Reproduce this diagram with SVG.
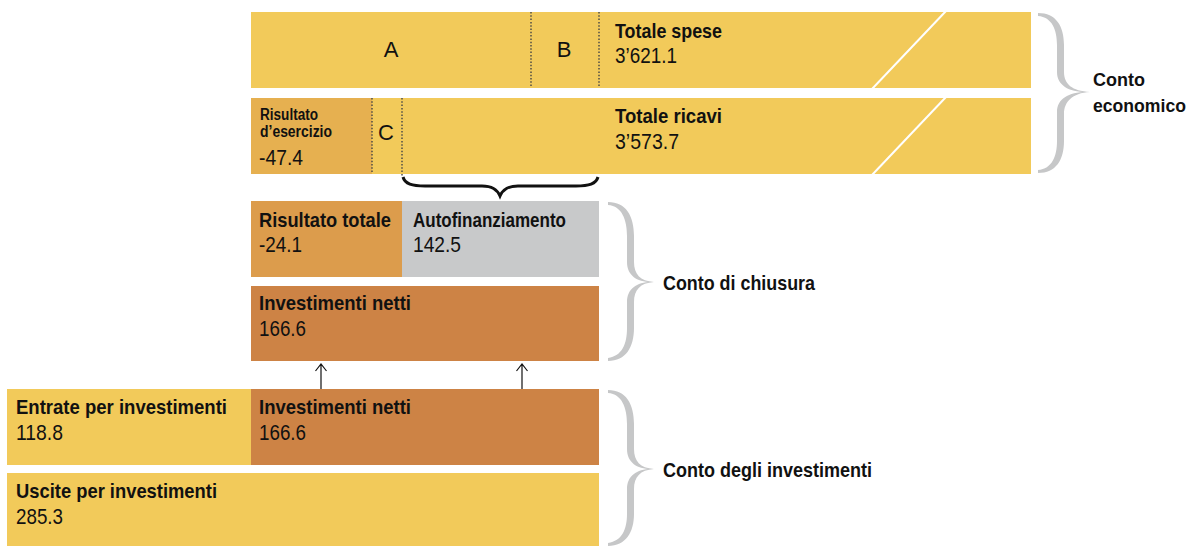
<svg xmlns="http://www.w3.org/2000/svg" width="1192" height="546" viewBox="0 0 1192 546">
<style>
.b{font-family:"Liberation Sans",Arial,sans-serif;font-weight:bold;font-size:21px;fill:#111}
.n{font-family:"Liberation Sans",Arial,sans-serif;font-size:22px;fill:#111}
.s{font-family:"Liberation Sans",Arial,sans-serif;font-weight:bold;font-size:16px;fill:#111}
.e{font-size:19px}
.yel{fill:#F2CA5A}
.org{fill:#E6B050}
.org2{fill:#DC9C4C}
.brn{fill:#CD8345}
.gry{fill:#C8C9CA}
.dot{stroke:#444;stroke-width:1.4;stroke-dasharray:1.5 1.8;fill:none}
.sl{stroke:#fff;stroke-width:2;fill:none}
.gb{fill:#C6C7C8}
.arr{stroke:#111;stroke-width:1.2;fill:none}
</style>
<rect width="1192" height="546" fill="#fff"/>
<g id="spese">
<rect class="yel" x="251" y="12" width="780" height="76"/>
<line class="sl" x1="872" y1="89" x2="946" y2="11"/>
<line class="dot" x1="531" y1="12" x2="531" y2="88"/>
<line class="dot" x1="599" y1="12" x2="599" y2="88"/>
<text class="n" x="391" y="57" text-anchor="middle">A</text>
<text class="n" x="564" y="57" text-anchor="middle">B</text>
<text class="b" x="615" y="38" textLength="107" lengthAdjust="spacingAndGlyphs">Totale spese</text>
<text class="n" x="615" y="63" textLength="62" lengthAdjust="spacingAndGlyphs">3’621.1</text>
</g>
<g id="ricavi">
<rect class="yel" x="251" y="98" width="780" height="76"/>
<rect class="org" x="251" y="98" width="121" height="76"/>
<line class="sl" x1="872" y1="175" x2="946" y2="97"/>
<line class="dot" x1="372" y1="98" x2="372" y2="174"/>
<line class="dot" x1="402" y1="98" x2="402" y2="176"/>
<text class="s" x="260" y="120" textLength="58" lengthAdjust="spacingAndGlyphs">Risultato</text>
<text class="s" x="260" y="137" textLength="72" lengthAdjust="spacingAndGlyphs">d’esercizio</text>
<text class="n" x="259" y="165" textLength="44" lengthAdjust="spacingAndGlyphs">-47.4</text>
<text class="n" x="386" y="140" text-anchor="middle">C</text>
<text class="b" x="615" y="123" textLength="107" lengthAdjust="spacingAndGlyphs">Totale ricavi</text>
<text class="n" x="615" y="149" textLength="64" lengthAdjust="spacingAndGlyphs">3’573.7</text>
</g>
<g id="risultato-totale">
<rect class="org2" x="251" y="201" width="151" height="76"/>
<text class="b" x="259" y="227" textLength="132" lengthAdjust="spacingAndGlyphs">Risultato totale</text>
<text class="n" x="259" y="252" textLength="43" lengthAdjust="spacingAndGlyphs">-24.1</text>
</g>
<g id="autofinanziamento">
<rect class="gry" x="402" y="201" width="197" height="76"/>
<text class="b" x="413" y="227" textLength="153" lengthAdjust="spacingAndGlyphs">Autofinanziamento</text>
<text class="n" x="413" y="252" textLength="48" lengthAdjust="spacingAndGlyphs">142.5</text>
</g>
<g id="investimenti-netti-1">
<rect class="brn" x="251" y="286" width="348" height="75"/>
<text class="b" x="259" y="310" textLength="152" lengthAdjust="spacingAndGlyphs">Investimenti netti</text>
<text class="n" x="259" y="336" textLength="47" lengthAdjust="spacingAndGlyphs">166.6</text>
</g>
<g id="entrate">
<rect class="yel" x="7" y="389" width="244" height="76"/>
<text class="b" x="16" y="414" textLength="211" lengthAdjust="spacingAndGlyphs">Entrate per investimenti</text>
<text class="n" x="16" y="440" textLength="47" lengthAdjust="spacingAndGlyphs">118.8</text>
</g>
<g id="investimenti-netti-2">
<rect class="brn" x="251" y="389" width="348" height="76"/>
<text class="b" x="259" y="414" textLength="152" lengthAdjust="spacingAndGlyphs">Investimenti netti</text>
<text class="n" x="259" y="440" textLength="47" lengthAdjust="spacingAndGlyphs">166.6</text>
</g>
<g id="uscite">
<rect class="yel" x="7" y="473" width="592" height="73"/>
<text class="b" x="16" y="498" textLength="201" lengthAdjust="spacingAndGlyphs">Uscite per investimenti</text>
<text class="n" x="16" y="524" textLength="47" lengthAdjust="spacingAndGlyphs">285.3</text>
</g>
<g id="connectors">
<path class="arr" d="M321 389 V364 M315.5 371 L321 364 L326.5 371"/>
<path class="arr" d="M522 389 V364 M516.5 371 L522 364 L527.5 371"/>
<path d="M403 177 C405 184 412 186 425 186 L482 186 C492 186 497 189 500 196 C503 189 508 186 518 186 L576 186 C589 186 596 184 598 177" fill="none" stroke="#111" stroke-width="3"/>
</g>
<g id="brace-economico">
<path class="gb" d="M1038 13 C1056 13 1064 26 1064 45 L1064 72 C1064 84 1072 91 1090 92 C1070 93 1057 86 1057 72 L1057 45 C1057 30 1052 17 1038 16 Z"/>
<path class="gb" d="M1038 173 C1056 173 1064 160 1064 141 L1064 114 C1064 102 1072 93 1090 92 C1070 91 1057 98 1057 112 L1057 141 C1057 156 1052 169 1038 170 Z"/>
<text class="b e" x="1093" y="86" textLength="52" lengthAdjust="spacingAndGlyphs">Conto</text>
<text class="b e" x="1093" y="112" textLength="93" lengthAdjust="spacingAndGlyphs">economico</text>
</g>
<g id="brace-chiusura">
<path class="gb" d="M608 202 C626 202 634 216 634 236 L634 262 C634 274 640 281 654 282 C638 283 627 276 627 262 L627 236 C627 220 622 206 608 205 Z"/>
<path class="gb" d="M608 361 C626 361 634 347 634 328 L634 302 C634 290 640 283 654 282 C638 281 627 288 627 302 L627 328 C627 344 622 356 608 358 Z"/>
<text class="b" x="663" y="290" textLength="152" lengthAdjust="spacingAndGlyphs">Conto di chiusura</text>
</g>
<g id="brace-investimenti">
<path class="gb" d="M608 390 C626 390 634 404 634 424 L634 449 C634 461 640 468 654 469 C638 470 627 463 627 449 L627 424 C627 408 622 394 608 393 Z"/>
<path class="gb" d="M608 546 C626 546 634 532 634 514 L634 489 C634 477 640 470 654 469 C638 468 627 475 627 489 L627 514 C627 529 622 541 608 543 Z"/>
<text class="b" x="663" y="477" textLength="209" lengthAdjust="spacingAndGlyphs">Conto degli investimenti</text>
</g>
</svg>
